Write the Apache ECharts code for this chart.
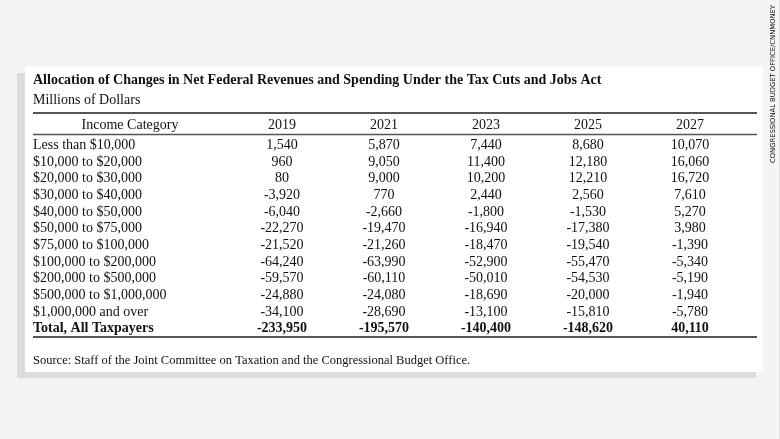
<!DOCTYPE html>
<html><head><meta charset="utf-8">
<script src="https://cdn.jsdelivr.net/npm/echarts@6/dist/echarts.min.js"></script>
<style>html,body{margin:0;padding:0;background:#f4f4f4}#c{width:780px;height:439px}</style>
</head><body><div id="c"></div>
<script>
const titleText = 'Allocation of Changes in Net Federal Revenues and Spending Under the Tax Cuts and Jobs Act';
const unitText = 'Millions of Dollars';
const sourceText = 'Source: Staff of the Joint Committee on Taxation and the Congressional Budget Office.';
const creditText = 'CONGRESSIONAL BUDGET OFFICE/CNNMONEY';
const headerLabel = 'Income Category';
const incomeCategories = ['Less than $10,000','$10,000 to $20,000','$20,000 to $30,000','$30,000 to $40,000','$40,000 to $50,000','$50,000 to $75,000','$75,000 to $100,000','$100,000 to $200,000','$200,000 to $500,000','$500,000 to $1,000,000','$1,000,000 and over','Total, All Taxpayers'];
const years = ['2019','2021','2023','2025','2027'];
const v2019 = [1540,960,80,-3920,-6040,-22270,-21520,-64240,-59570,-24880,-34100,-233950];
const v2021 = [5870,9050,9000,770,-2660,-19470,-21260,-63990,-60110,-24080,-28690,-195570];
const v2023 = [7440,11400,10200,2440,-1800,-16940,-18470,-52900,-50010,-18690,-13100,-140400];
const v2025 = [8680,12180,12210,2560,-1530,-17380,-19540,-55470,-54530,-20000,-15810,-148620];
const v2027 = [10070,16060,16720,7610,5270,3980,-1390,-5340,-5190,-1940,-5780,40110];

const columns = [v2019, v2021, v2023, v2025, v2027];
const totalIdx = incomeCategories.length - 1;
const cells = [];
columns.forEach((col, ci) => col.forEach((v, ri) => cells.push([ci, ri, v])));
const SERIF = '"Liberation Serif","Times New Roman",serif';
const fmt = v => (v < 0 ? '-' : '') + Math.abs(v).toLocaleString('en-US');

const chart = echarts.init(document.getElementById('c'), null, {renderer:'canvas'});
const ruleColor = '#555';
chart.setOption({
  animation: false,
  backgroundColor: '#f4f4f4',
  title: [
    {text: titleText, subtext: unitText, left: 28, top: 68, itemGap: 6,
     textStyle: {fontFamily: SERIF, fontWeight: 'bold', fontSize: 14, color: '#111'},
     subtextStyle: {fontFamily: SERIF, fontSize: 14, color: '#111'}},
    {text: sourceText, left: 28, top: 349,
     textStyle: {fontFamily: SERIF, fontWeight: 'normal', fontSize: 12.5, color: '#111'}}
  ],
  graphic: [
    {type: 'rect', z: -10, shape: {x: 17, y: 73, width: 739, height: 305}, style: {fill: '#dcdcdc'}},
    {type: 'rect', z: -9, shape: {x: 25, y: 67, width: 738, height: 305}, style: {fill: '#ffffff'}},
    {type: 'line', shape: {x1: 33, y1: 113, x2: 757, y2: 113}, style: {stroke: ruleColor, lineWidth: 2}},
    {type: 'line', shape: {x1: 33, y1: 134.5, x2: 757, y2: 134.5}, style: {stroke: ruleColor, lineWidth: 1.5}},
    {type: 'line', shape: {x1: 33, y1: 337, x2: 757, y2: 337}, style: {stroke: ruleColor, lineWidth: 2}},
    {type: 'line', shape: {x1: 779.5, y1: 0, x2: 779.5, y2: 439}, style: {stroke: '#e2e2e2', lineWidth: 1}},
    {type: 'text', x: 130, y: 125, style: {text: headerLabel, font: '14px ' + SERIF, fill: '#111', textAlign: 'center', textVerticalAlign: 'middle'}},
    {type: 'text', x: 773, y: 84, rotation: Math.PI / 2,
     style: {text: creditText, font: '6.8px "DejaVu Sans"', fill: '#111', textAlign: 'center', textVerticalAlign: 'middle'}}
  ],
  grid: {left: 231, width: 510, top: 137, height: 200, containLabel: false, outerBoundsMode: 'none'},
  xAxis: {type: 'category', position: 'top', data: years,
    axisLine: {show: false}, axisTick: {show: false}, splitLine: {show: false},
    axisLabel: {interval: 0, margin: 5, fontFamily: SERIF, fontSize: 14, color: '#111'}},
  yAxis: {type: 'category', inverse: true,
    data: incomeCategories.map((c, i) => i === totalIdx ? {value: c, textStyle: {fontWeight: 'bold', align: 'left'}} : c),
    axisLine: {show: false}, axisTick: {show: false}, splitLine: {show: false},
    axisLabel: {interval: 0, align: 'left', margin: 198, fontFamily: SERIF, fontSize: 14, color: '#111'}},
  series: [{
    type: 'custom', data: cells, silent: true,
    renderItem: (params, api) => {
      const p = api.coord([api.value(0), api.value(1)]);
      const bold = api.value(1) === totalIdx;
      return {type: 'text', x: p[0], y: p[1],
        style: {text: fmt(api.value(2)), font: (bold ? 'bold ' : '') + '14px ' + SERIF,
          fill: '#111', textAlign: 'center', textVerticalAlign: 'middle'}};
    }
  }]
});
</script></body></html>
